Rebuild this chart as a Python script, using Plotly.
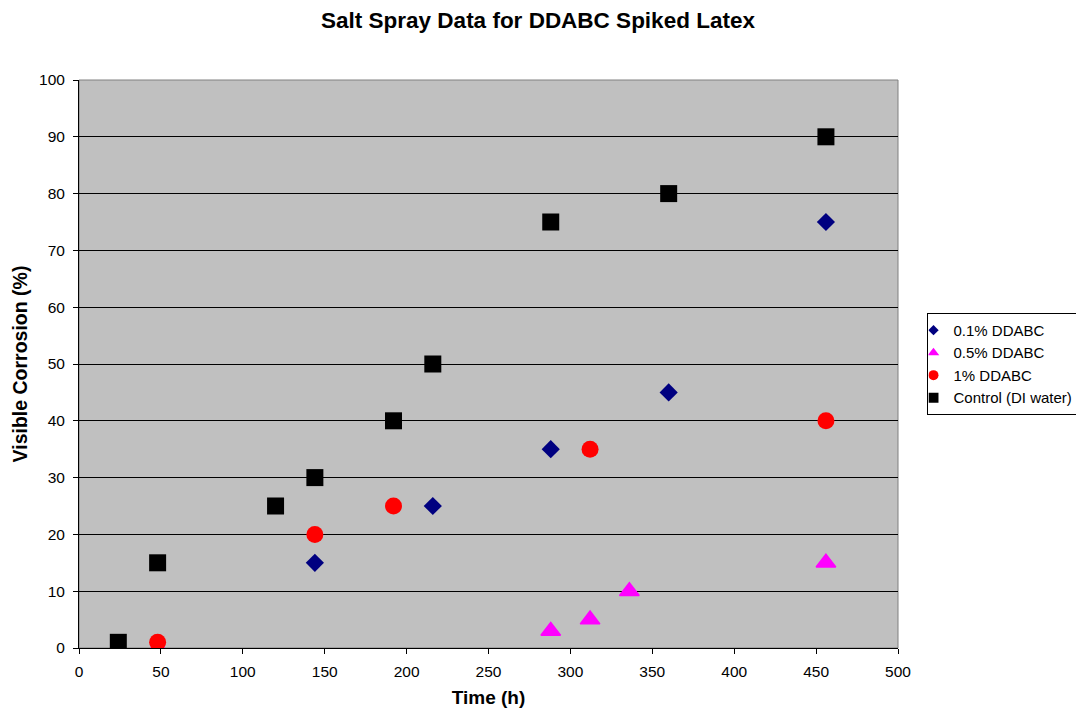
import plotly.graph_objects as go

t_01 = [144, 216, 288, 360, 456]
v_01 = [15, 25, 35, 45, 75]
t_05 = [48, 288, 312, 336, 456]
v_05 = [0, 3, 5, 10, 15]
t_1 = [48, 144, 192, 312, 456]
v_1 = [1, 20, 25, 35, 40]
t_c = [24, 48, 120, 144, 192, 216, 288, 360, 456]
v_c = [1, 15, 25, 30, 40, 50, 75, 80, 90]

names = ["0.1% DDABC", "0.5% DDABC", "1% DDABC", "Control (DI water)"]
colors = ["#000080", "#FF00FF", "#FF0000", "#000000"]
symbols = ["diamond", "triangle-up", "circle", "square"]
sizes = [14, 17, 17, 17]
legend_sizes = [8, 10, 10, 10]
xs = [t_01, t_05, t_1, t_c]
ys = [v_01, v_05, v_1, v_c]

fig = go.Figure()
for x, y, n, c, s, sz in zip(xs, ys, names, colors, symbols, sizes):
    lw = 1.5 if s == "triangle-up" else 0
    fig.add_trace(go.Scatter(x=x, y=y, mode="markers", name=n, showlegend=False,
                             legendgroup=n,
                             marker=dict(symbol=s, size=sz, color=c,
                                         line=dict(width=lw, color=c))))
for n, c, s, lsz in zip(names, colors, symbols, legend_sizes):
    fig.add_trace(go.Scatter(x=[None], y=[None], mode="markers", name=n, legendgroup=n,
                             marker=dict(symbol=s, size=lsz, color=c)))

fig.update_layout(
    width=1076, height=712,
    margin=dict(l=79, r=178, t=80, b=64, autoexpand=False),
    paper_bgcolor="white", plot_bgcolor="#C0C0C0",
    font=dict(family="Arial, Liberation Sans, sans-serif", size=15, color="black"),
    title=dict(text="<b>Salt Spray Data for DDABC Spiked Latex</b>", x=0.5, xanchor="center",
               xref="container", y=0.972, yanchor="middle", font=dict(size=22.5)),
    showlegend=True,
    legend=dict(x=1.036, y=0.59, xanchor="left", yanchor="top", bgcolor="white",
                bordercolor="black", borderwidth=1, font=dict(size=15),
                itemwidth=30, tracegroupgap=0, indentation=-15),
    xaxis=dict(range=[0, 500], dtick=50, showgrid=False, zeroline=False,
               showline=True, linecolor="black", linewidth=1, mirror=False,
               ticks="outside", ticklen=5, tickcolor="black", tickfont=dict(size=15.5),
               ticklabelstandoff=4,
               title=dict(text="<b>Time (h)</b>", font=dict(size=19), standoff=12)),
    yaxis=dict(range=[0, 100], dtick=10, showgrid=True, gridcolor="black", gridwidth=1,
               zeroline=False, showline=True, linecolor="black", linewidth=1,
               ticks="outside", ticklen=5, tickcolor="black", tickfont=dict(size=15.5),
               ticklabelstandoff=5,
               title=dict(text="<b>Visible Corrosion (%)</b>", font=dict(size=19.5), standoff=6)),
)
fig.add_shape(type="rect", xref="paper", yref="paper", x0=0, y0=0, x1=1, y1=1,
              line=dict(color="#808080", width=1), layer="below")
fig.write_html("out.html")
